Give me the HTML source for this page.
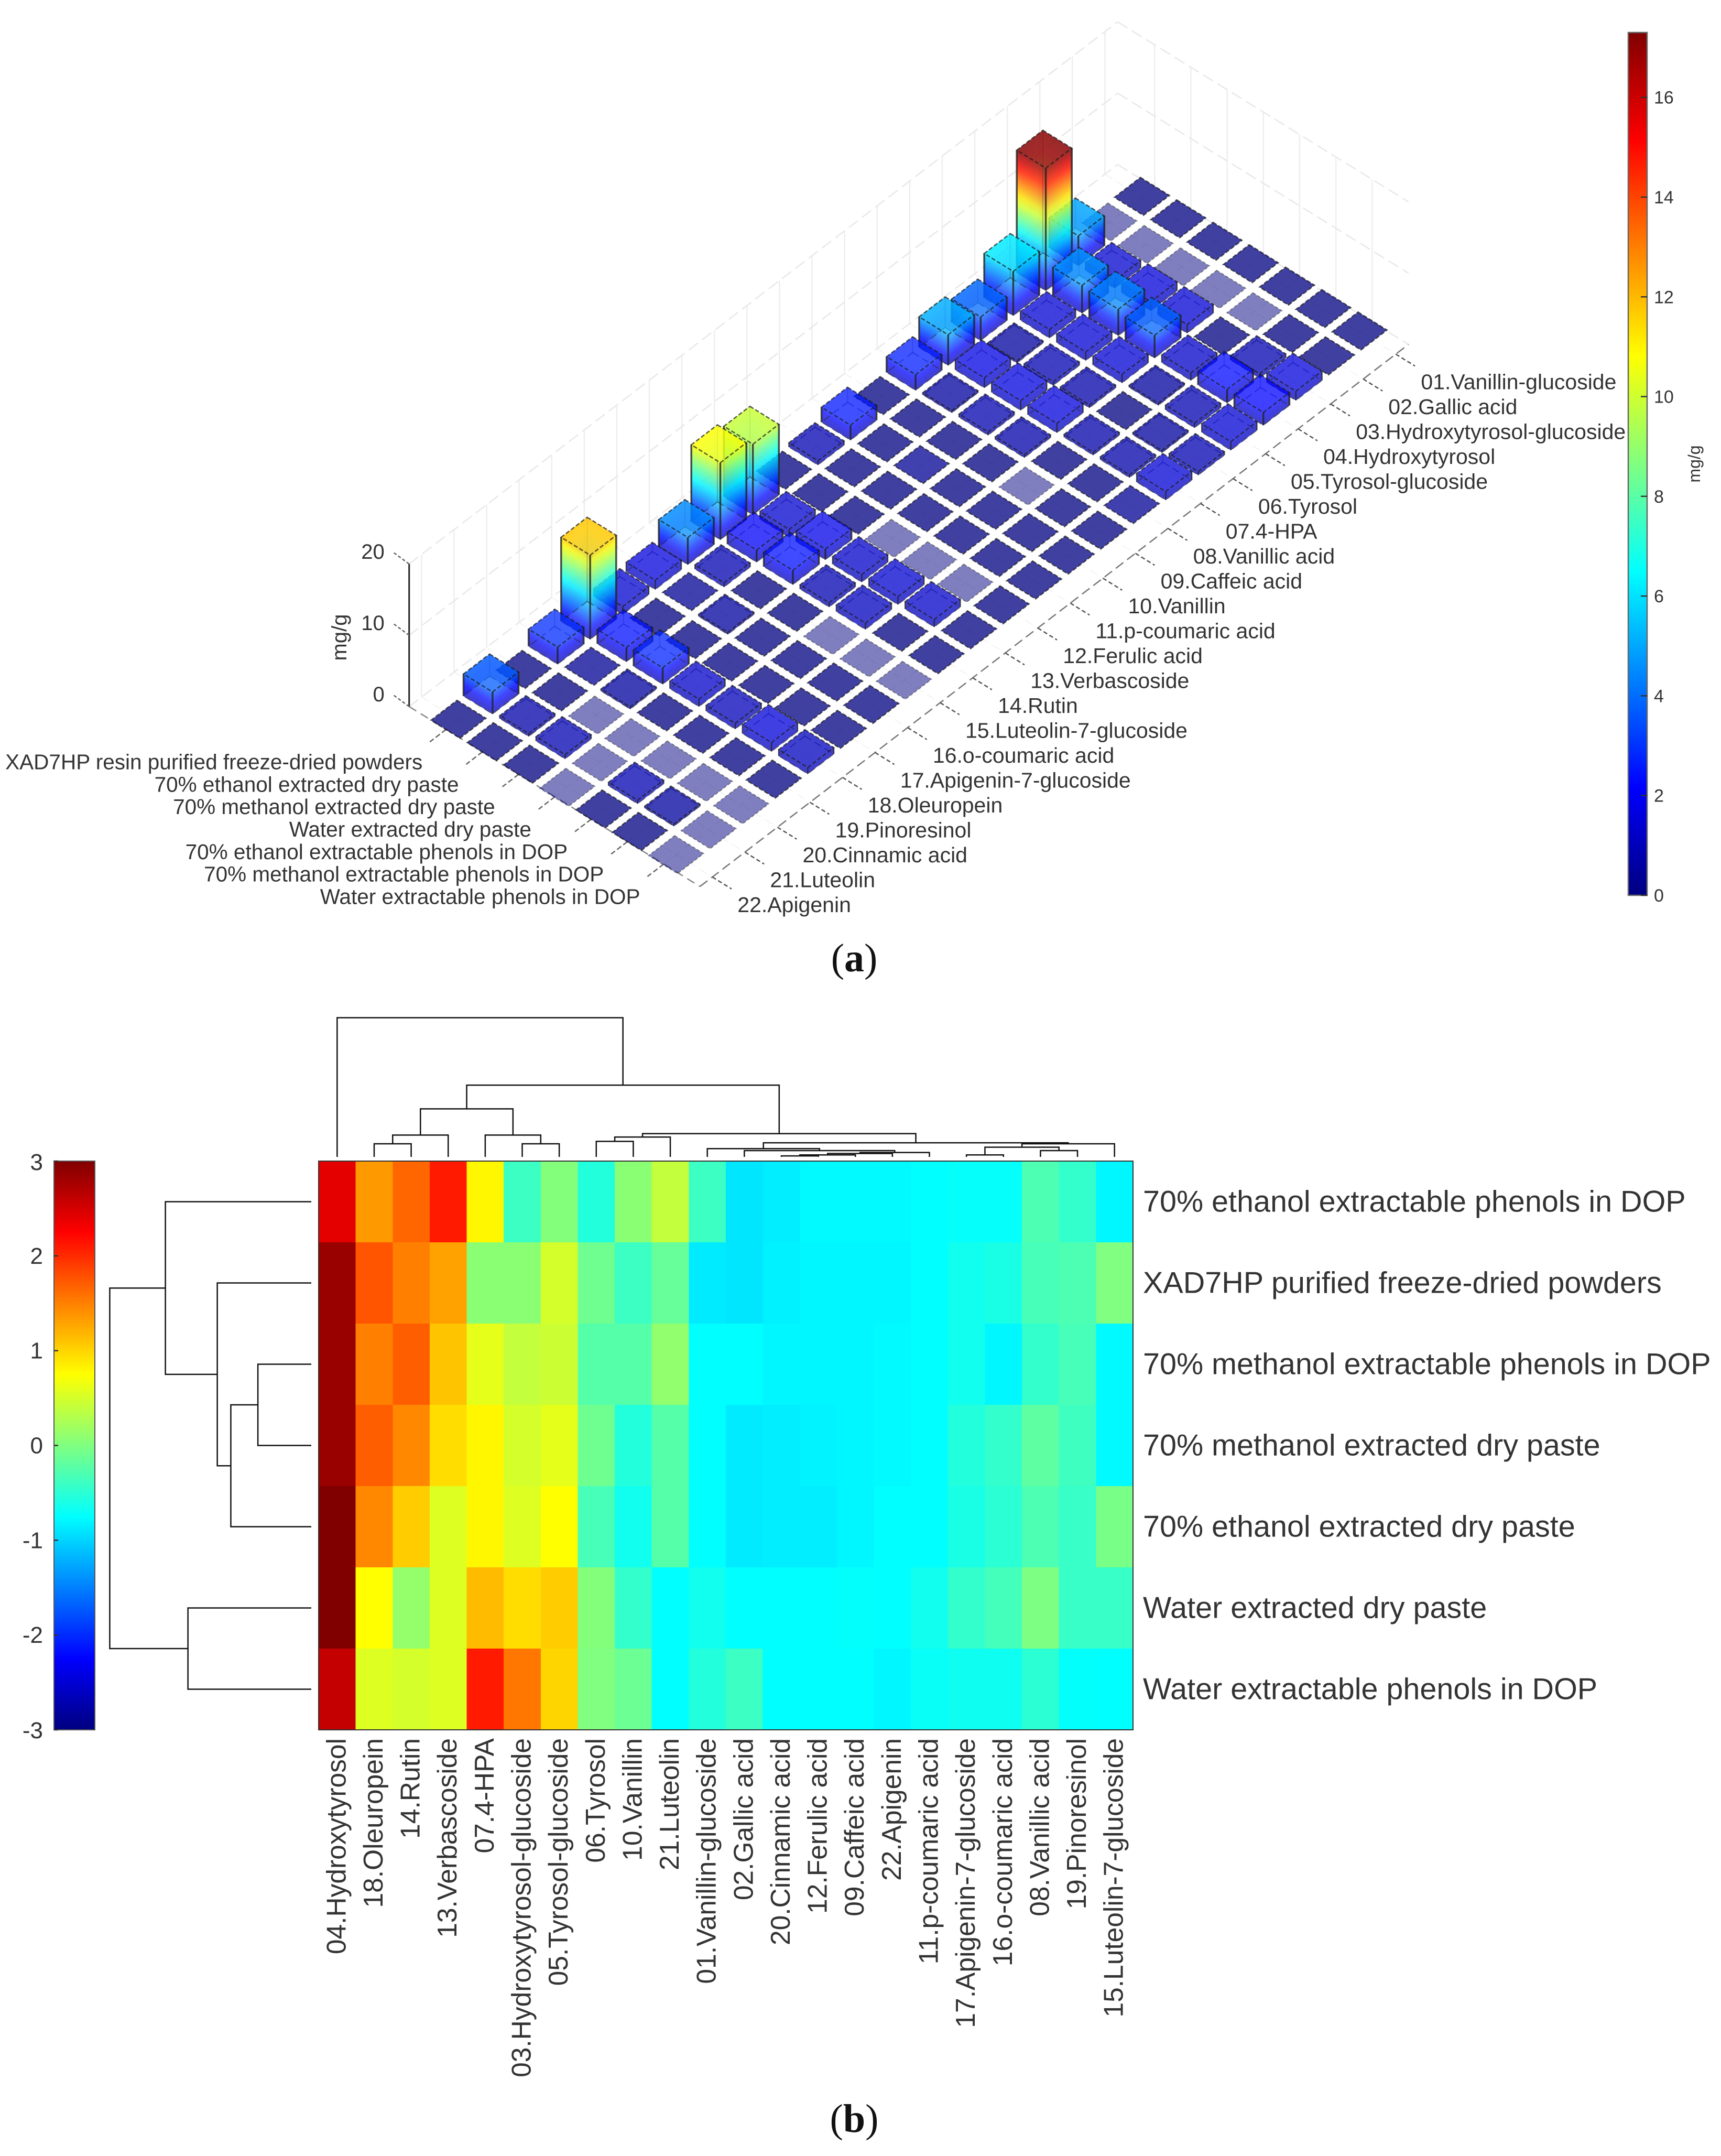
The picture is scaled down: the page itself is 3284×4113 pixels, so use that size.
<!DOCTYPE html>
<html lang="en">
<head>
<meta charset="utf-8">
<title>Phenolic compounds: 3D bar chart and clustered heatmap</title>
<style>
html,body{margin:0;padding:0;background:#fff;}
svg{display:block;}
text{font-family:"Liberation Sans",sans-serif;fill:#333;}
.cap{font-family:"Liberation Serif",serif;fill:#111;}
</style>
</head>
<body>
<svg id="figure" xmlns="http://www.w3.org/2000/svg" width="3284" height="4113" viewBox="0 0 3284 4113">
  <defs id="defs"></defs>
  <g id="bar-panel"></g>
  <text x="647" y="1216" font-size="40" text-anchor="middle" transform="rotate(-90 647 1216)" dy="14">mg/g</text>
  <text x="3233" y="885" font-size="32" text-anchor="middle" transform="rotate(-90 3233 885)" dy="11">mg/g</text>
  <text class="cap" x="1630" y="1853" font-size="76" text-anchor="middle">(<tspan font-weight="bold">a</tspan>)</text>
  <g id="heat-panel"></g>
  <text class="cap" x="1630" y="4067" font-size="76" text-anchor="middle">(<tspan font-weight="bold">b</tspan>)</text>
</svg>
<script>
/* ---------- panel (a) data ---------- */
const compoundLabels = ["01.Vanillin-glucoside","02.Gallic acid","03.Hydroxytyrosol-glucoside","04.Hydroxytyrosol","05.Tyrosol-glucoside","06.Tyrosol","07.4-HPA","08.Vanillic acid","09.Caffeic acid","10.Vanillin","11.p-coumaric acid","12.Ferulic acid","13.Verbascoside","14.Rutin","15.Luteolin-7-glucoside","16.o-coumaric acid","17.Apigenin-7-glucoside","18.Oleuropein","19.Pinoresinol","20.Cinnamic acid","21.Luteolin","22.Apigenin"];
const sampleLabels = ["XAD7HP resin purified freeze-dried powders","70% ethanol extracted dry paste","70% methanol extracted dry paste","Water extracted dry paste","70% ethanol extractable phenols in DOP","70% methanol extractable phenols in DOP","Water extractable phenols in DOP"];
const xadResin      = [.1,0,4.2,17.2,6.2,3.3,4.3,2.2,.1,2.1,.6,.1,9.9,10.8,3.8,1.3,1.1,11.8,2.4,.1,3.1,.1];
const ethanolPaste  = [.1,0,1.1,3.9,1.2,.3,1.4,.3,.1,.1,.1,.1,1.1,1.7,.6,.2,.1,2.0,.2,.1,.4,.1];
const methanolPaste = [.1,0,1.25,3.7,1.2,.5,1.35,.45,.1,.2,.1,.1,1.5,2.0,.1,.3,.1,2.3,.3,0,.6,.1];
const waterPaste    = [.1,0,1.2,3.2,1.2,.4,1.3,.4,.1,.1,.1,0,1.05,.6,.1,.1,.1,1.05,.1,0,0,0];
const ethanolDop    = [.1,0,.1,1.05,.3,.1,.4,.1,0,.1,.1,0,1.1,.9,0,.1,.1,.8,.1,0,.5,.1];
const methanolDop   = [.1,.1,.6,1.9,.65,.3,.4,.1,.1,.1,.1,0,1.05,.1,0,.1,.1,1.25,.1,0,.3,.1];
const waterDop      = [.1,.1,1.3,1.8,1.2,.5,1.2,.2,.1,.1,.1,.1,.1,.1,0,.1,.1,.9,.1,0,0,0];
const barSeries = [xadResin,ethanolPaste,methanolPaste,waterPaste,ethanolDop,methanolDop,waterDop];
const zTicks = [0,10,20];
const colorbarTicksA = [0,2,4,6,8,10,12,14,16];
const colorbarMaxA = 17.3;

/* ---------- panel (b) data ---------- */
const heatColumnLabels = ["04.Hydroxytyrosol","18.Oleuropein","14.Rutin","13.Verbascoside","07.4-HPA","03.Hydroxytyrosol-glucoside","05.Tyrosol-glucoside","06.Tyrosol","10.Vanillin","21.Luteolin","01.Vanillin-glucoside","02.Gallic acid","20.Cinnamic acid","12.Ferulic acid","09.Caffeic acid","22.Apigenin","11.p-coumaric acid","17.Apigenin-7-glucoside","16.o-coumaric acid","08.Vanillic acid","19.Pinoresinol","15.Luteolin-7-glucoside"];
const heatRowLabels = ["70% ethanol extractable phenols in DOP","XAD7HP purified freeze-dried powders","70% methanol extractable phenols in DOP","70% methanol extracted dry paste","70% ethanol extracted dry paste","Water extracted dry paste","Water extractable phenols in DOP"];
const heatEthanolDop    = [2.4,1.35,1.65,2.1,.8,-.4,.02,-.55,.07,.4,-.4,-.9,-.85,-.78,-.78,-.78,-.75,-.72,-.72,-.3,-.45,-.8];
const heatXad           = [2.85,1.75,1.5,1.3,.07,.07,.5,-.1,-.4,-.15,-.87,-.9,-.83,-.8,-.8,-.8,-.75,-.65,-.6,-.33,-.3,0];
const heatMethanolDop   = [2.85,1.5,1.7,1.1,.6,.4,.45,-.25,-.25,.1,-.75,-.75,-.8,-.8,-.8,-.78,-.75,-.65,-.8,-.45,-.33,-.78];
const heatMethanolPaste = [2.85,1.7,1.45,.95,.8,.5,.6,-.1,-.55,-.25,-.75,-.87,-.85,-.82,-.8,-.78,-.75,-.55,-.45,-.2,-.38,-.78];
const heatEthanolPaste  = [3,1.45,1.05,.55,.8,.55,.75,-.33,-.65,-.25,-.75,-.87,-.85,-.85,-.8,-.75,-.75,-.6,-.5,-.3,-.42,-.05];
const heatWaterPaste    = [3,.75,.12,.55,1.15,.95,1.05,.02,-.45,-.75,-.65,-.75,-.75,-.75,-.73,-.75,-.65,-.45,-.35,-.02,-.42,-.42];
const heatWaterDop      = [2.6,.55,.5,.55,2.1,1.55,1,0,-.12,-.75,-.55,-.4,-.75,-.75,-.75,-.8,-.7,-.67,-.67,-.5,-.73,-.75];
const heatRows = [heatEthanolDop,heatXad,heatMethanolDop,heatMethanolPaste,heatEthanolPaste,heatWaterPaste,heatWaterDop];
const colorbarTicksB = [3,2,1,0,-1,-2,-3];
/* linkage: [child, child, distance]; ids above the leaf count refer to earlier merges */
const columnLinkage = [[1,2,27],[22,3,45],[5,6,27],[4,24,45],[23,25,99],[7,8,32],[27,9,41],[12,13,2],[29,14,4],[30,15,7],[31,16,9],[11,32,13],[10,33,17],[17,18,4],[19,20,13],[35,36,20],[37,21,27],[34,38,29],[28,39,48],[26,40,148],[0,41,287]];
const rowLinkage = [[2,3,71],[7,4,107],[1,8,125],[0,9,194],[5,6,164],[10,11,268]];

/* ---------- helpers ---------- */
const NS = "http://www.w3.org/2000/svg";
const defs = document.getElementById("defs");
const barPanel = document.getElementById("bar-panel");
const heatPanel = document.getElementById("heat-panel");
function make(tag, attrs, parent) {
  const el = document.createElementNS(NS, tag);
  for (const k in attrs) el.setAttribute(k, attrs[k]);
  if (parent) parent.appendChild(el);
  return el;
}
function clamp(x) { return Math.max(0, Math.min(1, x)); }
function jet(t) {
  const r = clamp(Math.min(4*t-1.5, -4*t+4.5));
  const g = clamp(Math.min(4*t-0.5, -4*t+3.5));
  const b = clamp(Math.min(4*t+0.5, -4*t+2.5));
  return "rgb(" + Math.round(r*255) + "," + Math.round(g*255) + "," + Math.round(b*255) + ")";
}
function jetStops(grad) {
  for (let k = 0; k <= 16; k++) make("stop", {offset: k/16, "stop-color": jet(k/16)}, grad);
}

/* ---------- panel (a) axis functions ---------- */
const origin = [2179, 376], rowStep = [69.2, 42.8], colStep = [-62.1, 47.5], zUnit = 13.6, half = 0.4;
const iMin = -0.39, iMax = 21.38, jMin = -1.02, jMax = 7;
function px(i, j) { return origin[0] + rowStep[0]*j + colStep[0]*i; }
function py(i, j, z) { return origin[1] + rowStep[1]*j + colStep[1]*i - (z||0)*zUnit; }
function displayValue(v) { return v <= 0.15 ? 0 : (v < 5 ? Math.max(v*1.2, Math.min(0.85, v*1.7)) : v); }
function barColor(v) { return jet(displayValue(v)/colorbarMaxA); }

function line3(i1,j1,z1,i2,j2,z2,attrs,parent) {
  return make("line", Object.assign({x1:px(i1,j1),y1:py(i1,j1,z1),x2:px(i2,j2),y2:py(i2,j2,z2)}, attrs), parent);
}

/* walls and floor */
const gridGroup = make("g", {}, barPanel);


const wallDash = {stroke:"#e8e8e8","stroke-width":2.5,"stroke-dasharray":"22 10",fill:"none"};
const vertLine = {stroke:"#eeeeee","stroke-width":2.5,fill:"none"};
const floorDash = {stroke:"#f3f3f3","stroke-width":2,"stroke-dasharray":"16 10"};
compoundLabels.forEach(function(_, i){
  line3(i,jMin,0,i,jMin,zTicks[zTicks.length-1],vertLine,gridGroup);
  line3(i,jMin,0,i,jMax,0,floorDash,gridGroup);
});
sampleLabels.forEach(function(_, j){
  line3(iMin,j,0,iMin,j,zTicks[zTicks.length-1],vertLine,gridGroup);
  line3(iMin,j,0,iMax,j,0,floorDash,gridGroup);
});
zTicks.forEach(function(z){
  line3(iMax,jMin,z,iMin,jMin,z,wallDash,gridGroup);
  line3(iMin,jMin,z,iMin,jMax,z,wallDash,gridGroup);
});
line3(iMax,jMin,0,iMax,jMax,0,{stroke:"#888","stroke-width":2.5,"stroke-dasharray":"16 10"},gridGroup);
line3(iMax,jMax,0,iMin,jMax,0,{stroke:"#777","stroke-width":2.5,"stroke-dasharray":"18 9"},gridGroup);

/* z axis */
const zAxis = line3(iMax,jMin,0,iMax,jMin,zTicks[zTicks.length-1],{stroke:"#222","stroke-width":3},barPanel);


zTicks.forEach(function(z){
  const x0 = px(iMax,jMin), y0 = py(iMax,jMin,z);
  const tick = make("line",{x1:x0,y1:y0,x2:x0-30,y2:y0-22,stroke:"#666","stroke-width":2.5,"stroke-dasharray":"6 4"},barPanel);
  
  
  const t = make("text",{x:x0-47,y:y0-10,"font-size":40,"text-anchor":"end"},barPanel);
  t.textContent = z;
  
  
});

/* sample and compound axis ticks and labels */
sampleLabels.forEach(function(label, j){
  const x0 = px(iMax,j), y0 = py(iMax,j,0);
  const tick = make("line",{x1:x0,y1:y0,x2:x0+colStep[0]*0.5,y2:y0+colStep[1]*0.5,stroke:"#666","stroke-width":2.5,"stroke-dasharray":"10 5"},barPanel);
  
  
  const t = make("text",{x:x0-45,y:y0+76,"font-size":40.5,"text-anchor":"end"},barPanel);
  t.textContent = label;
  
  
});
compoundLabels.forEach(function(label, i){
  const x0 = px(i,jMax), y0 = py(i,jMax,0);
  const tick = make("line",{x1:x0,y1:y0,x2:x0+rowStep[0]*0.53,y2:y0+rowStep[1]*0.53,stroke:"#555","stroke-width":2.5,"stroke-dasharray":"8 5"},barPanel);
  
  
  const t = make("text",{x:x0+48,y:y0+67,"font-size":41},barPanel);
  t.textContent = label;
  
  
});

/* bars, back to front */
let gradCount = 0;
function faceGradient(v, x0, yTop, yBot, slope) {
  const id = "g" + (gradCount++);
  const g = make("linearGradient",{id:id,gradientUnits:"userSpaceOnUse",x1:0,y1:yTop,x2:0,y2:yBot,
    gradientTransform:"matrix(1 "+slope+" 0 1 0 "+(-slope*x0)+")"},defs);
  const n = v > 4 ? 14 : 4;
  const top = displayValue(v), floor = Math.min(0.9, top);
  for (let k = 0; k <= n; k++) {
    const val = floor + (top-floor)*(1-k/n);
    make("stop",{offset:k/n,"stop-color":jet(val/colorbarMaxA)},g);
  }
  return "url(#"+id+")";
}
function pts(a) { return a.map(function(p){return p[0].toFixed(1)+","+p[1].toFixed(1);}).join(" "); }
const order = [];
barSeries.forEach(function(series, j){ series.forEach(function(v, i){ order.push([i,j,v]); }); });
order.sort(function(a,b){ return (a[0]+a[1])-(b[0]+b[1]) || a[1]-b[1]; });
order.forEach(function(item){
  const i = item[0], j = item[1], v = item[2];
  const g = make("g",{},barPanel);
  
  
  const h = v*zUnit;
  const c0 = px(i,j), c1 = py(i,j,0);
  const dA = [half*(-rowStep[0]-colStep[0]), half*(-rowStep[1]-colStep[1])];
  const dR = [half*(rowStep[0]-colStep[0]), half*(rowStep[1]-colStep[1])];
  const dF = [-dA[0], -dA[1]];
  const dL = [-dR[0], -dR[1]];
  const b = function(d){ return [c0+d[0], c1+d[1]]; };
  const t = function(d){ return [c0+d[0], c1+d[1]-h]; };
  if (v === 0) {
    make("polygon",{points:pts([b(dA),b(dR),b(dF),b(dL)]),fill:jet(0),"fill-opacity":0.5,stroke:"#444","stroke-opacity":0.6,"stroke-width":2,"stroke-dasharray":"6 4"},g);
    return;
  }
  if (h >= 3) {
    const sL = (dF[1]-dL[1])/(dF[0]-dL[0]);
    const sR = (dR[1]-dF[1])/(dR[0]-dF[0]);
    const fillL = faceGradient(v, c0+dF[0], c1+dF[1]-h, c1+dF[1], sL);
    const fillR = faceGradient(v, c0+dF[0], c1+dF[1]-h, c1+dF[1], sR);
    if (v >= 3) {
      const backFillL = faceGradient(v, c0+dA[0], c1+dA[1]-h, c1+dA[1], sR);
      const backFillR = faceGradient(v, c0+dA[0], c1+dA[1]-h, c1+dA[1], sL);
      make("polygon",{points:pts([t(dL),t(dA),b(dA),b(dL)]),fill:backFillL,"fill-opacity":0.35},g);
      make("polygon",{points:pts([t(dA),t(dR),b(dR),b(dA)]),fill:backFillR,"fill-opacity":0.35},g);
    }
    make("polygon",{points:pts([t(dL),t(dF),b(dF),b(dL)]),fill:fillL,"fill-opacity":0.75},g);
    make("polygon",{points:pts([t(dF),t(dR),b(dR),b(dF)]),fill:fillR,"fill-opacity":0.75},g);
    make("polygon",{points:pts([b(dA),b(dR),b(dF),b(dL)]),fill:"none",stroke:"#222","stroke-opacity":0.5,"stroke-width":2,"stroke-dasharray":"14 8"},g);
    const edge = {stroke:"#222","stroke-opacity":0.8,"stroke-width":h>20?3.5:2.5};
    [dL,dF,dR].forEach(function(d){
      const a = t(d), z = b(d);
      make("line",Object.assign({x1:a[0],y1:a[1],x2:z[0],y2:z[1]},edge),g);
    });
    const a = t(dA), z = b(dA);
    make("line",{x1:a[0],y1:a[1],x2:z[0],y2:z[1],stroke:"#333","stroke-opacity":0.3,"stroke-width":2},g);
  }
  make("polygon",{points:pts([t(dA),t(dR),t(dF),t(dL)]),fill:barColor(v),"fill-opacity":0.75,stroke:"#1a1a1a","stroke-opacity":0.7,"stroke-width":2.5,"stroke-dasharray":"8 4"},g);
});

/* colorbar (a) */
const cbX = 3107, cbW = 36, cbTop = 62, cbBottom = 1708;
function cbScaleA(v) { return cbBottom - (cbBottom-cbTop)*v/colorbarMaxA; }
const gradA = make("linearGradient",{id:"jetA",x1:0,y1:1,x2:0,y2:0},defs);
jetStops(gradA);
const barA = make("rect",{x:cbX,y:cbTop,width:cbW,height:cbBottom-cbTop,fill:"url(#jetA)",stroke:"#666","stroke-width":2.5},barPanel);


colorbarTicksA.forEach(function(v){
  const y = cbScaleA(v);
  const tick = make("line",{x1:cbX+cbW-12,y1:y,x2:cbX+cbW,y2:y,stroke:"#333","stroke-width":2.5},barPanel);
  
  
  const t = make("text",{x:cbX+cbW+13,y:y+12,"font-size":34},barPanel);
  t.textContent = v;
  
  
});

/* ---------- panel (b) axis functions ---------- */
const hmX = 608, hmY = 2215, hmW = 1554, hmH = 1085;
const colW = hmW/heatColumnLabels.length, rowH = hmH/heatRows.length;
function colCenter(k) { return hmX + (k+0.5)*colW; }
function rowCenter(k) { return hmY + (k+0.5)*rowH; }
function heatColor(v) { return jet((v+3)/6); }

const cells = make("g",{"shape-rendering":"crispEdges"},heatPanel);


heatRows.forEach(function(row, r){
  row.forEach(function(v, c){
    const cell = make("rect",{x:(hmX+c*colW).toFixed(2),y:(hmY+r*rowH).toFixed(2),width:(colW+0.6).toFixed(2),height:(rowH+0.6).toFixed(2),fill:heatColor(v)},cells);
    
    
  });
});
const frame = make("rect",{x:hmX,y:hmY,width:hmW,height:hmH,fill:"none",stroke:"#333","stroke-width":2},heatPanel);



heatRowLabels.forEach(function(label, r){
  const t = make("text",{x:2181,y:rowCenter(r)+19,"font-size":57.5},heatPanel);
  t.textContent = label;
  
  
});
heatColumnLabels.forEach(function(label, c){
  const x = colCenter(c)+16, y = 3316;
  const t = make("text",{x:x,y:y,"font-size":51.5,"text-anchor":"end",transform:"rotate(-90 "+x+" "+y+")"},heatPanel);
  t.textContent = label;
  
  
});

/* dendrograms */
function drawDendrogram(linkage, leafCount, leafPos, distPos, horizontal, name) {
  const g = make("g",{fill:"none",stroke:"#111","stroke-width":2.5},heatPanel);
  
  
  const nodes = [];
  for (let k = 0; k < leafCount; k++) nodes.push({p:leafPos(k),d:0});
  linkage.forEach(function(m){
    const a = nodes[m[0]], b = nodes[m[1]], d = distPos(m[2]);
    const da = a.d===0?distPos(0):a.d, db = b.d===0?distPos(0):b.d;
    const path = horizontal
      ? "M"+a.p+" "+da+"V"+d+"H"+b.p+"V"+db
      : "M"+da+" "+a.p+"H"+d+"V"+b.p+"H"+db;
    make("path",{d:path},g);
    nodes.push({p:(a.p+b.p)/2,d:d});
  });
}
drawDendrogram(columnLinkage, heatColumnLabels.length, colCenter, function(h){return 2207-h*0.925;}, true, "column-dendrogram");
drawDendrogram(rowLinkage, heatRows.length, rowCenter, function(h){return 594-h*1.435;}, false, "row-dendrogram");

/* colorbar (b) */
const gradB = make("linearGradient",{id:"jetB",x1:0,y1:1,x2:0,y2:0},defs);
jetStops(gradB);
const cbbX = 103, cbbW = 78, cbbTop = 2215, cbbBottom = 3300;
function cbScaleB(v) { return cbbBottom - (cbbBottom-cbbTop)*(v+3)/6; }
const barB = make("rect",{x:cbbX,y:cbbTop,width:cbbW,height:cbbBottom-cbbTop,fill:"url(#jetB)",stroke:"#555","stroke-width":2},heatPanel);


colorbarTicksB.forEach(function(v){
  const y = cbScaleB(v);
  const tick = make("line",{x1:cbbX,y1:y,x2:cbbX+8,y2:y,stroke:"#333","stroke-width":2.5},heatPanel);
  
  
  const t = make("text",{x:82,y:y+15+(v===3?2:0)+(v===-3?1:0),"font-size":44,"text-anchor":"end"},heatPanel);
  t.textContent = v;
  
  
});
</script>
</body>
</html>
